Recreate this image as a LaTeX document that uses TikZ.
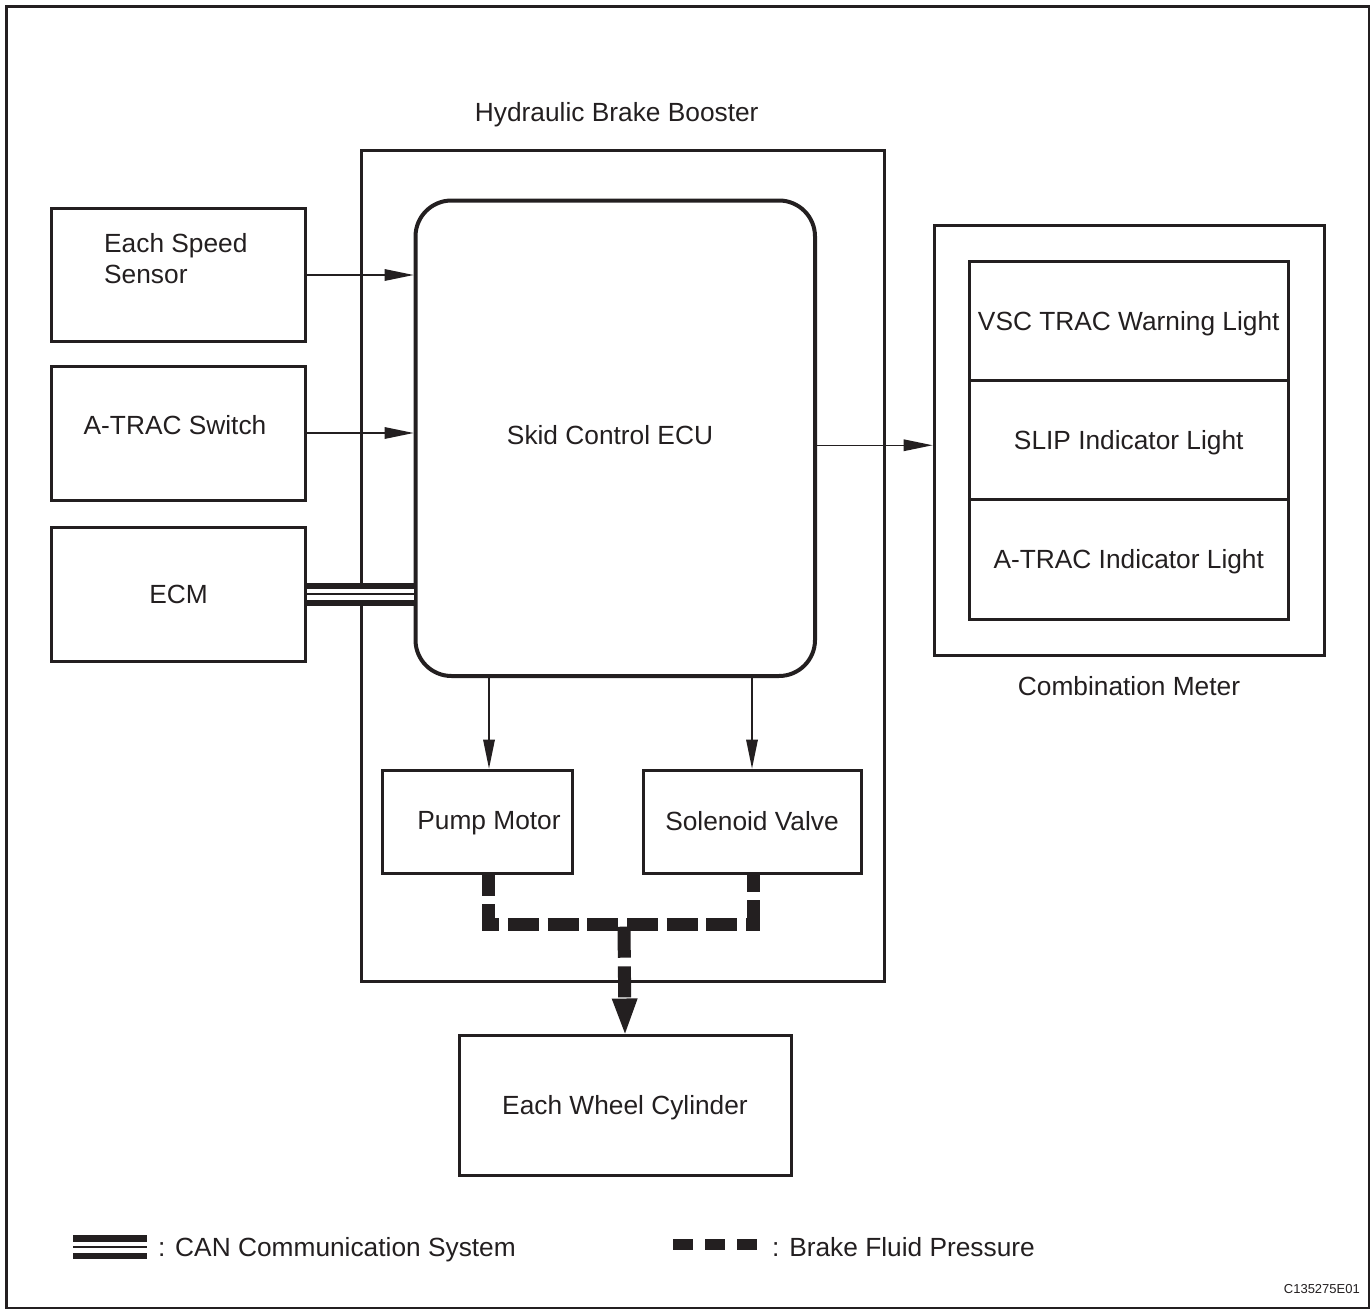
\documentclass[tikz,border=0pt]{standalone}
\usepackage{fontspec}
\setmainfont{Liberation Sans}
\usetikzlibrary{arrows.meta,positioning}
\definecolor{ink}{HTML}{231F20}
\newcommand{\bodyfont}{\fontsize{26.3}{31}\selectfont}
\tikzset{
	box/.style={draw=ink,line width=3pt,inner sep=0pt,text=ink,font=\bodyfont,text height=18.8pt,text depth=0pt},
	lbl/.style={text=ink,font=\bodyfont,inner sep=0pt,text height=18.8pt,text depth=0pt},
	sig/.style={ink,line width=1.5pt,-{Triangle[length=29pt,width=12pt,line width=0pt]}},
	fluid/.style={ink,line width=13pt,dash pattern=on 31pt off 8.7pt,line join=miter},
	can/.style={ink,line width=23pt,postaction={draw=white,line width=11pt},postaction={draw=ink,line width=2pt}}
}
\begin{document}
\begin{tikzpicture}[x=1pt,y=-1pt]
	\useasboundingbox (0,0) rectangle (1372,1311);
	\draw[ink,line width=2.5pt] (6.5,6.5) rectangle (1369,1308);

	\node[box,minimum width=523.5pt,minimum height=831pt] (hbb) at (622.75,565.5) {};
	\node[lbl,above=27pt of hbb,xshift=-6pt] (hbblbl) {Hydraulic Brake Booster};
	\node[box,line width=4pt,rounded corners=36pt,minimum width=399.5pt,minimum height=475.5pt] (ecu) at (615.25,438.25) {};
	\node[lbl] (eculbl) at (610,435) {Skid Control ECU};

	\node[box,minimum width=254pt,minimum height=133pt] (sensor) at (178.5,275) {};
	\node[text=ink,font=\bodyfont,inner sep=0pt,anchor=north west,align=left] (sensorlbl) at (104,233) {Each Speed\\Sensor};
	\node[box,minimum width=254pt,minimum height=134pt] (atrac) at (178.5,433) {};
	\node[lbl] (atraclbl) at (175,425) {A-TRAC Switch};
	\node[box,minimum width=254pt,minimum height=134pt] (ecm) at (178.5,594) {ECM};

	\node[box,minimum width=390pt,minimum height=429.5pt] (meter) at (1129,440.25) {};
	\node[lbl,below=20pt of meter] (meterlbl) {Combination Meter};
	\node[box,minimum width=318.5pt,minimum height=119.2pt] (vsc) at (1128.75,321.1) {VSC TRAC Warning Light};
	\node[box,minimum width=318.5pt,minimum height=119.2pt] (slip) at (1128.75,440.25) {SLIP Indicator Light};
	\node[box,minimum width=318.5pt,minimum height=119.2pt] (atracind) at (1128.75,559.4) {A-TRAC Indicator Light};

	\node[box,minimum width=190pt,minimum height=103pt] (pump) at (477,821.5) {};
	\node[lbl] (pumplbl) at (489,820) {Pump Motor};
	\node[box,minimum width=218pt,minimum height=103pt] (valve) at (752,821.5) {Solenoid Valve};
	\node[box,minimum width=332pt,minimum height=140pt] (wheel) at (625,1105) {Each Wheel Cylinder};

	\draw[sig] (sensor.east) -- (sensor.east -| ecu.west);
	\draw[sig] (atrac.east) -- (atrac.east -| ecu.west);
	\draw[sig] ([yshift=-7pt]ecu.east) -- ([yshift=-7pt]ecu.east -| meter.west);
	\draw[sig] (ecu.south -| pumplbl) -- (pump.north -| pumplbl);
	\draw[sig] (ecu.south -| valve) -- (valve.north);
	\draw[can] (ecm.east) -- (ecm.east -| ecu.west);

	\coordinate (split) at (624,924);
	\draw[fluid,dash phase=10pt] ([xshift=-1pt]pump.south -| pumplbl) |- (split) -| ([xshift=1.5pt]valve.south);
	\draw[fluid,dash phase=37pt,-{Triangle[length=35pt,width=26pt,line width=0pt]}] (split) -- (wheel.north);

	\coordinate (canA) at (73,1247);
	\coordinate (canB) at (147,1247);
	\draw[can,line width=24pt] (canA) -- (canB);
	\node[lbl,anchor=base west] (canlbl) at (158,1256) {: CAN Communication System};
	\coordinate (fluidA) at (673,1244);
	\coordinate (fluidB) at (758,1244);
	\draw[ink,line width=11pt,dash pattern=on 20pt off 12pt] (fluidA) -- (fluidB);
	\node[lbl,anchor=base west] (fluidlbl) at (772,1256) {: Brake Fluid Pressure};
	\node[text=ink,font=\fontsize{13}{15}\selectfont,inner sep=0pt,anchor=base east] (code) at (1360,1293) {C135275E01};
\end{tikzpicture}
\end{document}
